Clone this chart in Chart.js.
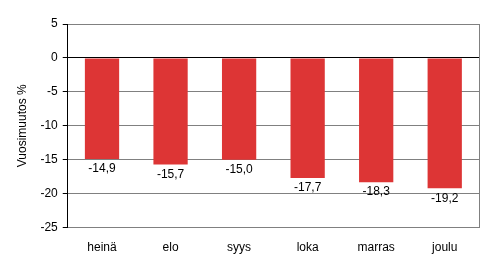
<!DOCTYPE html>
<html>
<head>
<meta charset="utf-8">
<script src="https://cdn.jsdelivr.net/npm/chart.js@4/dist/chart.umd.min.js"></script>
<style>
  html, body { margin: 0; padding: 0; background: #fff; }
  #wrap { width: 495px; height: 266px; }
</style>
</head>
<body>
<div id="wrap"><canvas id="chart"></canvas></div>
<script>
var months = ['heinä', 'elo', 'syys', 'loka', 'marras', 'joulu'];
var changes = [-14.9, -15.7, -15.0, -17.7, -18.3, -19.2];
var yTicks = [5, 0, -5, -10, -15, -20, -25];

// value labels just under the end of each bar
var barLabels = {
  id: 'barLabels',
  afterDatasetsDraw: function(chart) {
    var ctx = chart.ctx;
    var meta = chart.getDatasetMeta(0);
    ctx.save();
    ctx.font = '12px "Liberation Sans", Arial, sans-serif';
    ctx.fillStyle = '#000';
    ctx.textAlign = 'center';
    ctx.textBaseline = 'top';
    meta.data.forEach(function(bar, i) {
      var txt = changes[i].toFixed(1).replace('.', ',');
      ctx.fillText(txt, bar.x, bar.y + 4);
    });
    ctx.restore();
  }
};

new Chart(document.getElementById('chart'), {
  type: 'bar',
  data: {
    labels: months,
    datasets: [{
      data: changes,
      backgroundColor: '#dd3535',
      borderWidth: 0,
      categoryPercentage: 1,
      barPercentage: 0.5
    }]
  },
  options: {
    responsive: true,
    maintainAspectRatio: false,
    animation: false,
    layout: { padding: { top: 24, right: 8, bottom: 6, left: 15 } },
    plugins: { legend: { display: false }, tooltip: { enabled: false } },
    scales: {
      x: {
        grid: { display: false },
        border: { color: '#808080', width: 1 },
        ticks: {
          color: '#000',
          padding: 5,
          font: { family: '"Liberation Sans", Arial, sans-serif', size: 12 }
        }
      },
      y: {
        min: -25,
        max: 5,
        afterBuildTicks: function(axis) {
          axis.ticks = yTicks.map(function(v) { return { value: v }; });
        },
        grid: {
          color: function(c) { return c.tick && c.tick.value === 0 ? '#000' : '#808080'; },
          tickColor: '#000',
          tickLength: 5,
          lineWidth: 1
        },
        border: { color: '#000', width: 1 },
        title: {
          display: true,
          text: 'Vuosimuutos %',
          color: '#000',
          padding: { top: 0, bottom: 6 },
          font: { family: '"Liberation Sans", Arial, sans-serif', size: 12 }
        },
        ticks: {
          color: '#000',
          padding: 5,
          font: { family: '"Liberation Sans", Arial, sans-serif', size: 12 }
        }
      },
      y2: {
        position: 'right',
        min: -25,
        max: 5,
        grid: { display: false },
        border: { color: '#808080', width: 1 },
        ticks: { display: false }
      }
    }
  },
  plugins: [barLabels]
});
</script>
</body>
</html>
